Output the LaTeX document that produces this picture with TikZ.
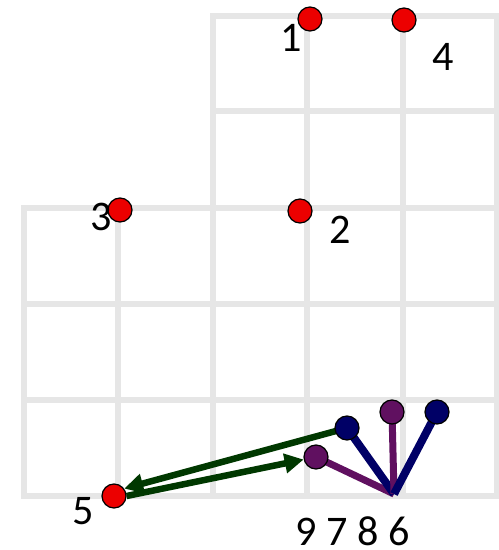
\documentclass[tikz,border=0pt]{standalone}
\usepackage{fontspec}
\setmainfont{Carlito}
\usetikzlibrary{arrows.meta}
\pgfdeclarelayer{gridlayer}
\pgfdeclarelayer{linelayer}
\pgfsetlayers{gridlayer,linelayer,main}
\definecolor{gridgray}{RGB}{230,230,230}
\definecolor{ptred}{RGB}{236,0,0}
\definecolor{navyc}{RGB}{0,0,102}
\definecolor{purplec}{RGB}{96,16,96}
\definecolor{greenc}{RGB}{0,56,0}
\tikzset{
  gridline/.style={draw=gridgray, line width=0.12cm, line cap=rect},
  dot/.style={circle, draw=black, line width=0.7pt, minimum size=0.48cm, inner sep=0pt},
  redpt/.style={dot, fill=ptred},
  navypt/.style={dot, fill=navyc},
  purplept/.style={dot, fill=purplec},
  lbl/.style={inner sep=0pt, font=\fontsize{24}{28}\selectfont},
  navyline/.style={draw=navyc, line width=0.16cm},
  purpleline/.style={draw=purplec, line width=0.14cm},
  greenarrow/.style={draw=greenc, line width=0.13cm, -{Triangle[length=0.38cm,width=0.38cm]}}
}
\begin{document}
\begin{tikzpicture}[x=0.02cm,y=-0.02cm]
\useasboundingbox (0,0) rectangle (498,550);
\begin{pgfonlayer}{gridlayer}
  % horizontal lines
  \draw[gridline] (213,16) -- (497,16);
  \draw[gridline] (213,111) -- (497,111);
  \draw[gridline] (24,208) -- (497,208);
  \draw[gridline] (24,304) -- (497,304);
  \draw[gridline] (24,400) -- (497,400);
  \draw[gridline] (24,496) -- (497,496);
  % vertical lines
  \draw[gridline] (24,208) -- (24,496);
  \draw[gridline] (118,208) -- (118,496);
  \draw[gridline] (213,16) -- (213,496);
  \draw[gridline] (307,16) -- (307,496);
  \draw[gridline] (403,16) -- (403,496);
  \draw[gridline] (497,16) -- (497,496);
\end{pgfonlayer}

% red points
\node[redpt] (p1) at (310,19) {};
\node[redpt] (p4) at (404,20) {};
\node[redpt] (p3) at (120,210) {};
\node[redpt] (p2) at (300,211) {};
\node[redpt] (p5) at (114,496) {};

% fan points
\coordinate (apex) at (394,494);
\node[purplept] (q9) at (316,457) {};
\node[navypt] (q7) at (347,428) {};
\node[purplept] (q8) at (392,412) {};
\node[navypt] (q6) at (437,412) {};

\begin{pgfonlayer}{linelayer}
  \draw[purpleline] (apex) -- (q9.center);
  \draw[navyline] (apex) -- (q7.center);
  \draw[purpleline] (apex) -- (q8.center);
  \draw[navyline] (apex) -- (q6.center);
  \draw[greenarrow] (q7.center) -- (p5.36);
  \draw[greenarrow] (p5.east) -- (q9);
\end{pgfonlayer}

% labels
\node[lbl] (l1) at (291,38) {1};
\node[lbl] (l4) at (443,57) {4};
\node[lbl] (l3) at (101,217) {3};
\node[lbl] (l2) at (340,230) {2};
\node[lbl] (l5) at (83,511) {5};
\node[lbl] (lbottom) at (353,531) {9 7 8 6};
\end{tikzpicture}
\end{document}
